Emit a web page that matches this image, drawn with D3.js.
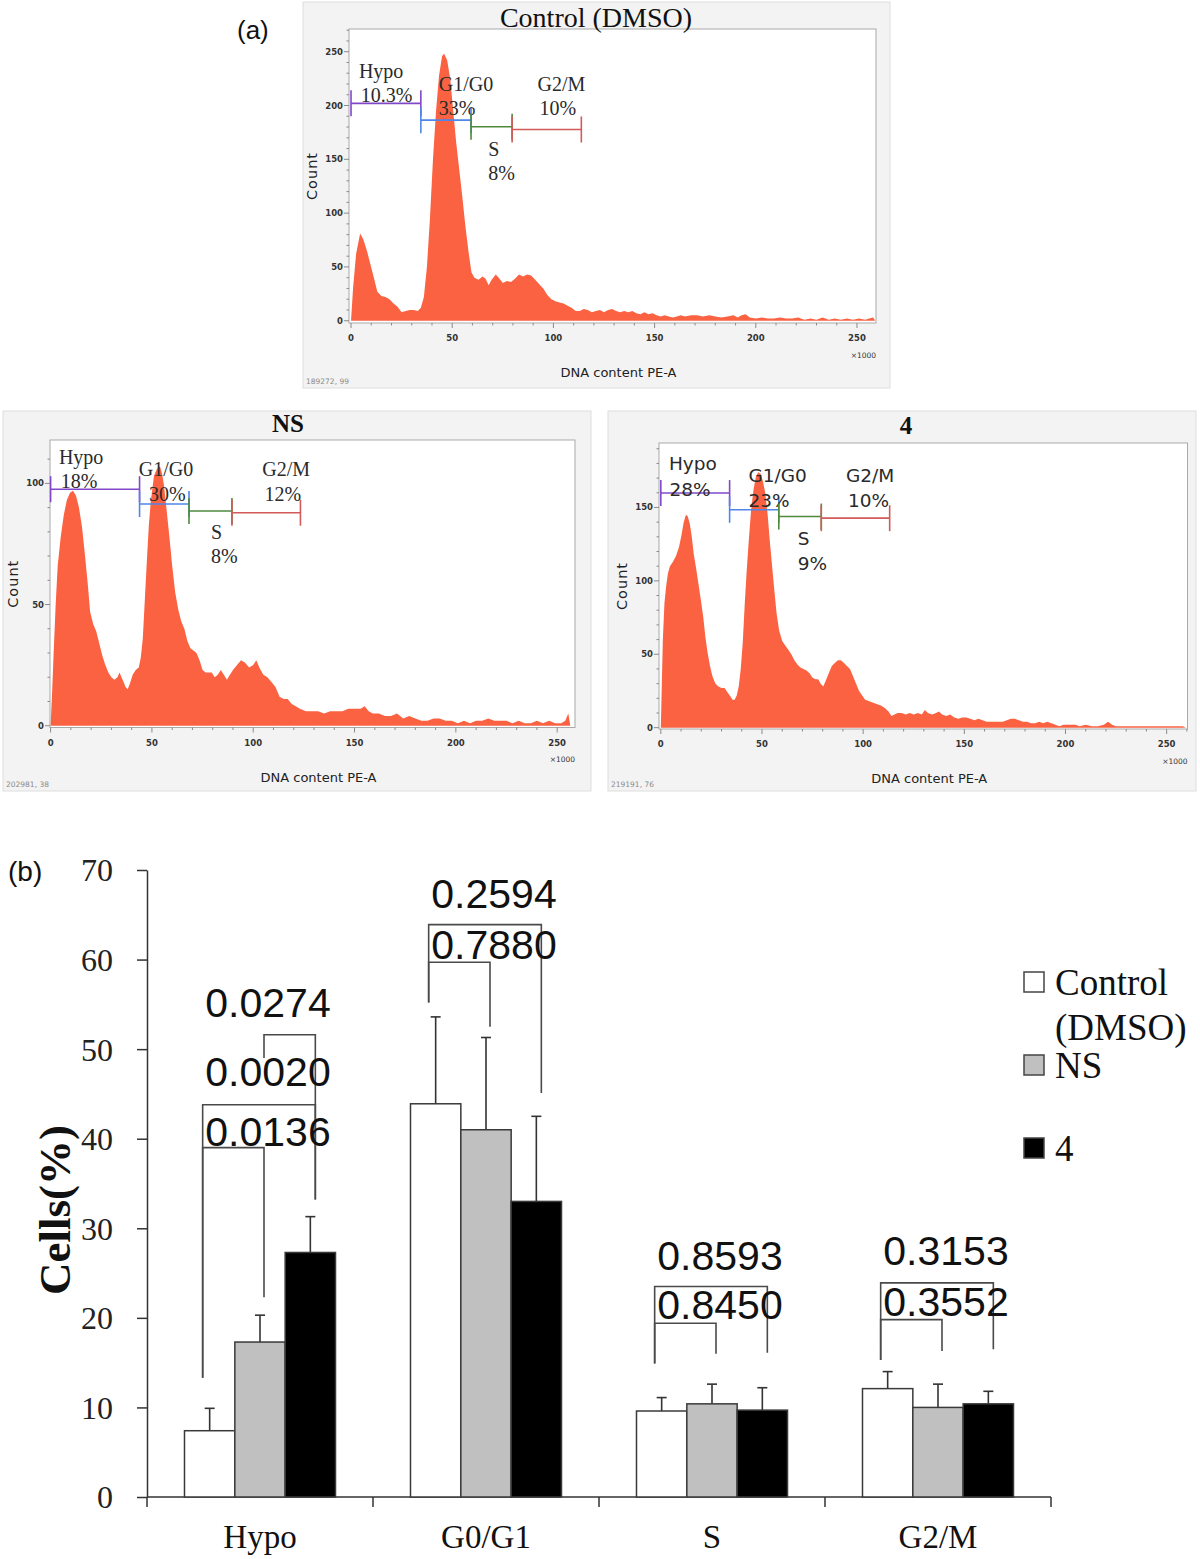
<!DOCTYPE html>
<html><head><meta charset="utf-8">
<script src="https://cdn.jsdelivr.net/npm/d3@7"></script>
<style>body{margin:0;background:#fff} svg{display:block}</style>
</head><body>
<svg id="chart" width="1200" height="1559"></svg>
<script>
// ---------------- DATA ----------------
// (a) flow cytometry histograms: [DNA content (x1000), count]
const controlHist = [[0,0],[1,30],[2.5,62],[4.5,81],[6,76],[8,64],[9.5,53],[11,42],[13,27],[15,23],[17,22],[19,20],[21,16],[23,13],[25,8],[27,9],[29,10],[31,10],[33,9],[34.5,12],[36,22],[37.5,50],[39,95],[40.5,150],[42,195],[43.5,228],[45,246],[46,248],[47.5,242],[49,225],[50.5,195],[52,165],[53.5,140],[55,115],[56.5,88],[58,65],[59.5,45],[61,40],[63,38],[65,41],[66.5,39],[68,33],[69.5,38],[71.5,43],[73,40],[75,35],[77,37],[79,36],[81,39],[83,43],[85,41],[87,43],[89,42],[91,38],[93,34],[95,30],[97,24],[99,20],[101,18],[103,17],[105,16],[107,14],[109,12],[111,9],[113,9],[115,11],[117,10],[119,8],[121,9],[123,10],[125,8],[127,10],[129,11],[131,9],[133,8],[135,9],[137,8],[139,9],[141,7],[143,6],[145,8],[147,6],[149,7],[151,5],[153,4],[155,5],[157,4],[159,3],[161,4],[163,5],[165,4],[168,5],[171,5],[174,4],[177,5],[180,4],[183,3],[186,4],[189,5],[191,3],[193,5],[195,6],[197,3],[200,2],[203,3],[206,2],[209,2],[212,3],[215,2],[218,2],[221,3],[224,1],[227,2],[230,1],[233,3],[236,1],[239,2],[242,1],[245,2],[248,1],[251,2],[254,1],[256,2],[258,3],[259,0]];
const nsHist = [[0,0],[0.8,15],[1.5,30],[2.5,50],[3.5,66],[5,78],[6.5,87],[8,93],[9.5,96],[11,97],[12.5,95],[14,90],[15.5,82],[17,70],[18.5,57],[19.5,47],[21,42],[22.5,39],[24,34],[25.5,29],[27,25],[28.5,22],[30,20],[31.5,19],[33,20],[34,22],[35,20],[36,18],[37,16],[38,15],[39,17],[40.5,21],[42,23],[43.5,24],[44.5,28],[45.5,36],[46.5,52],[47.5,68],[48.5,83],[49.5,93],[51,103],[52.5,106],[54,107],[55,104],[56,99],[57,91],[58.5,79],[60,66],[61.5,55],[63,48],[64.5,43],[66,40],[67.5,35],[69,32],[70.5,31],[72,30],[73.5,27],[75,23],[76.5,22],[78,22],[79.5,22],[81,20],[82.5,21],[84,23],[85.5,21],[87,19],[88.5,21],[90,23],[92,25],[94,27],[96,26],[98,24],[100,25],[101.5,27],[103,24],[105,21],[107,20],[109,18],[111,16],[113,12],[115,11],[117,11],[119,9],[121,8],[123,7],[126,6],[129,6],[132,6],[135,5],[138,6],[141,6],[144,6],[147,7],[150,7],[153,7],[155,8],[157,6],[159,5],[162,5],[165,4],[168,4],[171,5],[174,3],[177,4],[180,3],[183,2],[186,2],[189,3],[192,3],[195,2],[198,2],[201,1],[204,2],[207,1],[210,2],[213,2],[216,3],[219,2],[222,2],[225,2],[228,1],[231,2],[234,1],[237,1],[240,2],[243,1],[246,2],[249,1],[252,1],[254,2],[255.5,5],[256.5,0]];
const cmpd4Hist = [[0,0],[0.5,30],[1,60],[1.8,85],[2.6,96],[3.5,105],[4.5,110],[6,113],[7.5,117],[9,123],[10.2,131],[11.3,140],[12.4,145],[13.3,144],[14.3,139],[15.3,130],[16.3,118],[17.5,108],[18.7,97],[20,85],[21,75],[22,62],[23,52],[24.3,42],[25.5,35],[27,30],[28.5,28],[30,27],[31.5,27],[33,24],[34.5,21],[35.5,19],[36.5,19],[37.5,22],[38.5,28],[39.5,40],[40.5,58],[41.5,85],[42.5,108],[43.5,128],[44.6,148],[45.8,162],[47,171],[48.2,174],[49.3,173],[50.4,168],[51.6,160],[52.8,145],[53.8,128],[54.8,113],[56,95],[57.2,78],[58.5,66],[60,59],[61.5,56],[63,53],[64.5,50],[66,46],[67.5,43],[69,41],[70.5,40],[72,39],[73.5,37],[75,34],[76.5,33],[77.8,33],[79,30],[80.3,28],[81.5,32],[83,37],[84.5,42],[86,44],[87.5,46],[89,46],[90.5,44],[92,42],[93.5,40],[95,35],[96.5,30],[98,25],[99.5,22],[101,19],[103,18],[105,17],[107,16],[109,15],[111,13],[112.5,11],[114,8],[115.5,9],[117,10],[119,10],[121,9],[123,10],[125,9],[127,10],[129,9],[130.5,12],[132,10],[134,9],[136,10],[137.5,11],[139,9],[141,8],[143,9],[145,7],[147,6],[149,7],[151,7],[153,6],[155,5],[157,6],[159,5],[161,4],[163,4],[165,4],[167,4],[169,4],[171,5],[173,6],[175,6],[177,5],[179,4],[181,4],[183,3],[185,3],[187,4],[189,3],[191,4],[193,3],[195,2],[197,1],[199,2],[201,2],[203,2],[205,2],[207,1],[210,2],[213,1],[216,1],[219,2],[221,4],[223,2],[225,1],[228,1],[231,1],[234,1],[237,1],[240,1],[243,1],[246,1],[249,1],[252,1],[255,1],[258,1],[259.5,0]];

// gates (same names in every panel)
const gateNames = ["Hypo", "G1/G0", "S", "G2/M"];
const controlGateStart = [0, 34.5, 59.3, 79.6];
const controlGateEnd   = [34.5, 59.3, 79.6, 113.8];
const controlGateLevel = [202, 186.4, 180.2, 177.7];
const controlGatePct   = ["10.3%", "33%", "8%", "10%"];
const controlNameAt    = [[3.9, 226], [43.4, 213.6], [67.8, 153], [92.2, 213.6]];
const controlPctAt     = [[4.8, 203.4], [43.4, 191], [67.8, 130.7], [93.1, 191]];

const nsGateStart = [0, 43.9, 68.3, 89.5];
const nsGateEnd   = [43.9, 68.3, 89.5, 123.3];
const nsGateLevel = [97.6, 91.5, 88.6, 87.9];
const nsGatePct   = ["18%", "30%", "8%", "12%"];
const nsNameAt    = [[4.1, 107.8], [43.5, 103], [79.2, 76.9], [104.5, 103]];
const nsPctAt     = [[5.0, 97.9], [48.6, 92.7], [79.2, 67.3], [105.5, 92.7]];

const cmpd4GateStart = [0, 34, 58.3, 79.3];
const cmpd4GateEnd   = [34, 58.3, 79.3, 113.1];
const cmpd4GateLevel = [159.8, 148.4, 143.8, 142.7];
const cmpd4GatePct   = ["28%", "23%", "9%", "10%"];
const cmpd4NameAt    = [[4.0, 175.7], [43.3, 167], [67.7, 124.5], [91.5, 167]];
const cmpd4PctAt     = [[4.3, 158], [43.3, 150], [67.7, 107.5], [92.5, 150]];

const histXTicks = [0, 50, 100, 150, 200, 250];

// (b) bar chart
const categories = ["Hypo", "G0/G1", "S", "G2/M"];
const seriesNames = ["Control (DMSO)", "NS", "4"];
const controlMean = [7.4, 43.9, 9.6, 12.1];
const controlErr  = [2.5, 9.7, 1.5, 1.9];
const nsMean      = [17.3, 41.0, 10.4, 10.0];
const nsErr       = [3.0, 10.3, 2.2, 2.6];
const cmpd4Mean   = [27.3, 33.0, 9.7, 10.4];
const cmpd4Err    = [4.0, 9.5, 2.5, 1.4];
const yTicks = [0, 10, 20, 30, 40, 50, 60, 70];

// p-value brackets: series a -> series b, bracket level, leg ends, label
const pBrackets = [
  {cat: "Hypo",  a: 1, b: 2, level: 51.6, aEnd: 49.0, bEnd: 33.2, p: "0.0274", labelY: 53.6},
  {cat: "Hypo",  a: 0, b: 2, level: 43.8, aEnd: 13.3, bEnd: 33.2, p: "0.0020", labelY: 45.9},
  {cat: "Hypo",  a: 0, b: 1, level: 39.0, aEnd: 13.3, bEnd: 22.3, p: "0.0136", labelY: 39.2},
  {cat: "G0/G1", a: 0, b: 2, level: 63.9, aEnd: 55.2, bEnd: 45.1, p: "0.2594", labelY: 65.8},
  {cat: "G0/G1", a: 0, b: 1, level: 59.7, aEnd: 55.2, bEnd: 52.5, p: "0.7880", labelY: 60.1},
  {cat: "S",     a: 0, b: 2, level: 23.5, aEnd: 14.9, bEnd: 16.1, p: "0.8593", labelY: 25.3},
  {cat: "S",     a: 0, b: 1, level: 19.4, aEnd: 14.9, bEnd: 16.0, p: "0.8450", labelY: 19.9},
  {cat: "G2/M",  a: 0, b: 2, level: 23.9, aEnd: 15.3, bEnd: 16.5, p: "0.3153", labelY: 25.9},
  {cat: "G2/M",  a: 0, b: 1, level: 19.8, aEnd: 15.3, bEnd: 16.3, p: "0.3552", labelY: 20.2}
];

// ---------------- DRAWING ----------------
const svg = d3.select("#chart");
const SERIF = "'Liberation Serif','Times New Roman',serif";
const SANS = "'Liberation Sans',Arial,sans-serif";
const DEJA = "'DejaVu Sans',sans-serif";
const gateColors = ["#8048c8", "#4f86e8", "#4e8a3c", "#d25a5a"];
const histFill = "#fa6242";

svg.append("text").attr("x", 237).attr("y", 39).attr("font-family", SANS)
  .attr("font-size", 26).attr("fill", "#111").text("(a)");

function drawHist(cfg, hist, gStart, gEnd, gLevel, gPct, nameAt, pctAt) {
  const g = svg.append("g");
  const [bl, bt, br, bb] = cfg.box;
  const [l, t, r, b] = cfg.frame;
  g.append("rect").attr("x", bl).attr("y", bt).attr("width", br - bl).attr("height", bb - bt)
    .attr("fill", "#f3f3f3").attr("stroke", "#dedede");
  g.append("rect").attr("x", l).attr("y", t).attr("width", r - l).attr("height", b - t)
    .attr("fill", "#fff").attr("stroke", "#a9a9a9");
  const x = d3.scaleLinear().domain(cfg.xDom).range([l, r]);
  const y = d3.scaleLinear().domain(cfg.yDom).range([b, t]);

  // histogram area
  const area = d3.area().x(d => x(d[0])).y0(y(0)).y1(d => y(d[1]));
  g.append("path").datum(hist).attr("d", area).attr("fill", histFill);

  // y axis ticks
  const yMinor = d3.range(0, cfg.yDom[1], 10);
  g.selectAll(".ym").data(yMinor).join("line")
    .attr("x1", d => l - (d % 50 === 0 ? 5 : 2.5)).attr("x2", l)
    .attr("y1", d => y(d)).attr("y2", d => y(d)).attr("stroke", "#8a8a8a");
  g.selectAll(".yl").data(cfg.yTicks).join("text")
    .attr("x", l - 6).attr("y", d => y(d) + 3).attr("text-anchor", "end")
    .attr("font-family", DEJA).attr("font-weight", "bold").attr("font-size", 8.5)
    .attr("fill", "#333").text(d => d);
  // x axis ticks
  const xMinor = d3.range(0, cfg.xDom[1], 10);
  g.selectAll(".xm").data(xMinor).join("line")
    .attr("x1", d => x(d)).attr("x2", d => x(d)).attr("y1", b)
    .attr("y2", d => b + (d % 50 === 0 ? 5 : 2.5)).attr("stroke", "#8a8a8a");
  g.selectAll(".xl").data(histXTicks).join("text")
    .attr("x", d => x(d)).attr("y", b + 18).attr("text-anchor", "middle")
    .attr("font-family", DEJA).attr("font-weight", "bold").attr("font-size", 8.5)
    .attr("fill", "#333").text(d => d);
  g.append("text").attr("x", r).attr("y", b + 34.5).attr("text-anchor", "end")
    .attr("font-family", DEJA).attr("font-size", 7.5).attr("fill", "#333").text("\u00d71000");
  g.append("text").attr("x", (l + r) / 2 + 6).attr("y", b + 54).attr("text-anchor", "middle")
    .attr("font-family", DEJA).attr("font-size", 13).attr("fill", "#222").text("DNA content PE-A");
  g.append("text").attr("transform", `translate(${l - 32},${(t + b) / 2}) rotate(-90)`)
    .attr("text-anchor", "middle").attr("font-family", DEJA).attr("font-size", 14.5)
    .attr("letter-spacing", 1).attr("fill", "#222").text("Count");
  g.append("text").attr("x", bl + 3).attr("y", bb - 4).attr("font-family", DEJA)
    .attr("font-size", 7.5).attr("fill", "#8a8a8a").text(cfg.idText);
  // title
  g.append("text").attr("x", cfg.titleX).attr("y", cfg.titleY).attr("text-anchor", "middle")
    .attr("font-family", SERIF).attr("font-size", cfg.titleSize)
    .attr("font-weight", cfg.titleBold ? "bold" : "normal").attr("fill", "#111").text(cfg.title);

  // gates
  gateNames.forEach((name, i) => {
    const c = gateColors[i];
    const yy = y(gLevel[i]);
    g.append("line").attr("x1", x(gStart[i])).attr("x2", x(gEnd[i])).attr("y1", yy).attr("y2", yy)
      .attr("stroke", c).attr("stroke-width", 1.6);
    [gStart[i], gEnd[i]].forEach(v => {
      g.append("line").attr("x1", x(v)).attr("x2", x(v)).attr("y1", yy - 13).attr("y2", yy + 13)
        .attr("stroke", c).attr("stroke-width", 1.6);
    });
    g.append("text").attr("x", x(nameAt[i][0])).attr("y", y(nameAt[i][1]))
      .attr("font-family", cfg.labelFont).attr("font-size", cfg.labelSize).attr("fill", "#2a2a2a").text(name);
    g.append("text").attr("x", x(pctAt[i][0])).attr("y", y(pctAt[i][1]))
      .attr("font-family", cfg.labelFont).attr("font-size", cfg.labelSize).attr("fill", "#2a2a2a").text(gPct[i]);
  });
}

drawHist({box: [303, 2, 890, 388], frame: [349, 29, 876, 323], xDom: [-1, 259.4], yDom: [-2.1, 271.1],
  yTicks: [0, 50, 100, 150, 200, 250], title: "Control (DMSO)", titleX: 596, titleY: 27, titleSize: 28,
  titleBold: false, idText: "189272, 99", labelFont: SERIF, labelSize: 20},
  controlHist, controlGateStart, controlGateEnd, controlGateLevel, controlGatePct, controlNameAt, controlPctAt);
drawHist({box: [3, 411, 591, 791], frame: [50, 440, 575, 727.5], xDom: [-0.3, 258.8], yDom: [-0.74, 117.9],
  yTicks: [0, 50, 100], title: "NS", titleX: 288, titleY: 432, titleSize: 25,
  titleBold: true, idText: "202981, 38", labelFont: SERIF, labelSize: 20},
  nsHist, nsGateStart, nsGateEnd, nsGateLevel, nsGatePct, nsNameAt, nsPctAt);
drawHist({box: [608, 411, 1196, 791], frame: [659, 443, 1187.5, 729], xDom: [-0.9, 260.3], yDom: [-0.9, 193.9],
  yTicks: [0, 50, 100, 150], title: "4", titleX: 906, titleY: 434, titleSize: 25,
  titleBold: true, idText: "219191, 76", labelFont: DEJA, labelSize: 18.5},
  cmpd4Hist, cmpd4GateStart, cmpd4GateEnd, cmpd4GateLevel, cmpd4GatePct, cmpd4NameAt, cmpd4PctAt);

// ---------------- (b) bar chart ----------------
const means = [controlMean, nsMean, cmpd4Mean];
const errs = [controlErr, nsErr, cmpd4Err];
const barFills = ["#ffffff", "#c0c0c0", "#000000"];
const legNudge = [-7, 4, 5];

const x0 = d3.scaleBand().domain(categories).range([147, 1051]).padding(0);
const x1 = d3.scaleBand().domain(seriesNames).range([0, x0.bandwidth()]).paddingInner(0).paddingOuter(0.745);
const yB = d3.scaleLinear().domain([0, 70]).range([1497, 870]);

const gb = svg.append("g");
gb.append("text").attr("x", 8).attr("y", 881).attr("font-family", SANS).attr("font-size", 28)
  .attr("fill", "#111").text("(b)");

// y axis
const yAxis = gb.append("g").attr("transform", "translate(147,0)")
  .call(d3.axisLeft(yB).tickValues(yTicks).tickSize(10).tickSizeOuter(0).tickPadding(24));
yAxis.selectAll("path,line").attr("stroke", "#333").attr("stroke-width", 1.5);
yAxis.selectAll("text").attr("font-family", SERIF).attr("font-size", 32).attr("fill", "#222")
  .attr("dy", "0.34em");

// x axis
gb.append("line").attr("x1", 147).attr("x2", x0.range()[1]).attr("y1", yB(0)).attr("y2", yB(0))
  .attr("stroke", "#333").attr("stroke-width", 1.5);
const bounds = categories.map(c => x0(c)).concat([x0.range()[1]]);
gb.selectAll(".xt").data(bounds).join("line")
  .attr("x1", d => d).attr("x2", d => d).attr("y1", yB(0)).attr("y2", yB(0) + 10)
  .attr("stroke", "#333").attr("stroke-width", 1.5);
gb.selectAll(".xlab").data(categories).join("text")
  .attr("x", d => x0(d) + x0.bandwidth() / 2).attr("y", 1548).attr("text-anchor", "middle")
  .attr("font-family", SERIF).attr("font-size", 33).attr("fill", "#111").text(d => d);

// brackets (behind bars)
const legX = (cat, s) => x0(cat) + x1(seriesNames[s]) + x1.bandwidth() / 2 + legNudge[s];
pBrackets.forEach(br => {
  const xa = legX(br.cat, br.a), xb = legX(br.cat, br.b);
  const path = d3.path();
  path.moveTo(xa, yB(br.aEnd)); path.lineTo(xa, yB(br.level));
  path.lineTo(xb, yB(br.level)); path.lineTo(xb, yB(br.bEnd));
  gb.append("path").attr("d", path.toString()).attr("fill", "none")
    .attr("stroke", "#4a4a4a").attr("stroke-width", 1.6);
});
pBrackets.forEach(br => {
  gb.append("text").attr("x", x0(br.cat) + x0.bandwidth() / 2 + 8).attr("y", yB(br.labelY))
    .attr("text-anchor", "middle").attr("font-family", SANS).attr("font-size", 41)
    .attr("fill", "#111").text(br.p);
});

// bars and error bars
seriesNames.forEach((s, si) => {
  categories.forEach((c, ci) => {
    const bx = x0(c) + x1(s), bw = x1.bandwidth(), cx = bx + bw / 2;
    const m = means[si][ci], e = errs[si][ci];
    gb.append("line").attr("x1", cx).attr("x2", cx).attr("y1", yB(m)).attr("y2", yB(m + e))
      .attr("stroke", "#333").attr("stroke-width", 1.6);
    gb.append("line").attr("x1", cx - 5).attr("x2", cx + 5).attr("y1", yB(m + e)).attr("y2", yB(m + e))
      .attr("stroke", "#333").attr("stroke-width", 1.6);
    gb.append("rect").attr("x", bx).attr("y", yB(m)).attr("width", bw).attr("height", yB(0) - yB(m))
      .attr("fill", barFills[si]).attr("stroke", "#3a3a3a").attr("stroke-width", 1.5);
  });
});

// legend
seriesNames.forEach((s, i) => {
  const ry = 972 + i * 83;
  gb.append("rect").attr("x", 1024).attr("y", ry).attr("width", 20).attr("height", 20)
    .attr("fill", barFills[i]).attr("stroke", "#444").attr("stroke-width", 1.5);
  const words = s.split(" ");
  const t = gb.append("text").attr("font-family", SERIF).attr("font-size", 37).attr("fill", "#111");
  words.forEach((w, wi) => {
    t.append("tspan").attr("x", 1055).attr("y", ry + 23 + wi * 45).text(w);
  });
});

// y title
gb.append("text").attr("transform", "translate(70,1210) rotate(-90)").attr("text-anchor", "middle")
  .attr("font-family", SERIF).attr("font-weight", "bold").attr("font-size", 45).attr("fill", "#111")
  .text("Cells(%)");
</script></body></html>
